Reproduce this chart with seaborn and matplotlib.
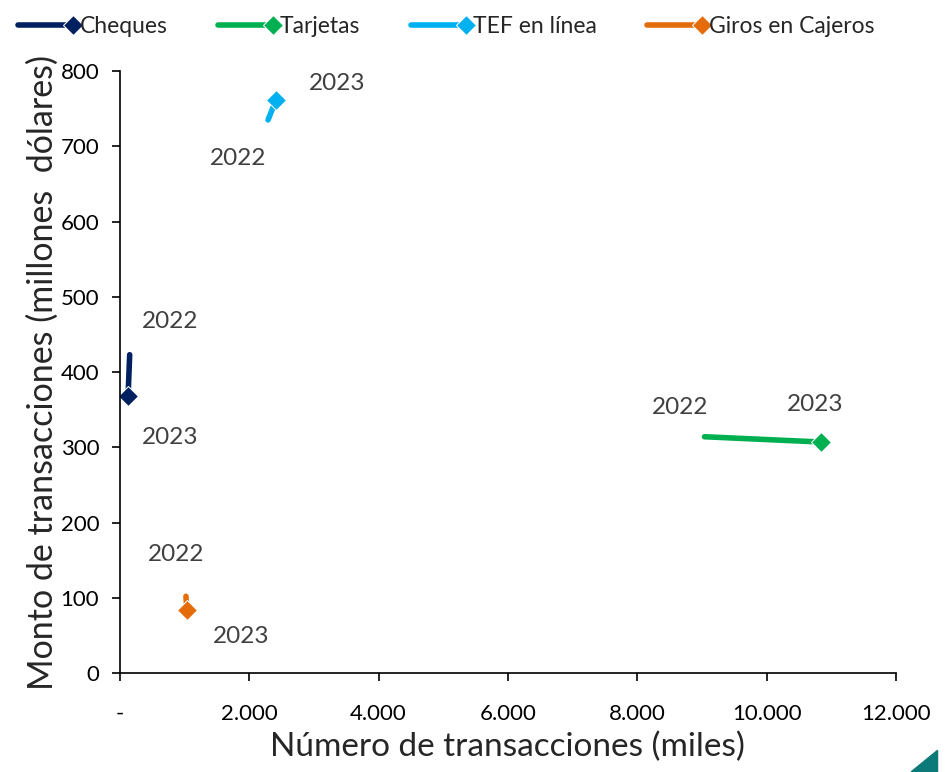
import matplotlib.pyplot as plt
import matplotlib.ticker as mticker
from matplotlib.legend_handler import HandlerLine2D
from matplotlib.lines import Line2D
from matplotlib.patches import Polygon
import seaborn as sns

series = ["Cheques", "Tarjetas", "TEF en línea", "Giros en Cajeros"]
colors = ["#002060", "#00B050", "#00B0F0", "#E46C0A"]
years = ["2022", "2023"]
num_tx = [[150, 125], [9040, 10835], [2290, 2410], [1020, 1035]]
monto_tx = [[423, 368], [314, 307], [735, 761], [102, 84]]

# label offsets (pixels) for 2022 / 2023
offsets = [
    [(40, 33), (42, -41)],
    [(-24, 29), (-5, 38)],
    [(-30, -39), (61, 17)],
    [(-10, 42), (54, -27)],
]

sns.set_style("white")
plt.rcParams["font.family"] = ["Lato", "DejaVu Sans"]

fig = plt.figure(figsize=(9.47, 7.72), dpi=100)
ax = fig.add_axes([0.1267, 0.1282, 0.8193, 0.7798])

for name, col, xs, ys, offs in zip(series, colors, num_tx, monto_tx, offsets):
    sns.lineplot(x=xs, y=ys, ax=ax, color=col, linewidth=4, marker="D",
                 markersize=10, markevery=[1], sort=False, label=name,
                 solid_capstyle="round")
    for xv, yv, yr, off in zip(xs, ys, years, offs):
        ax.annotate(yr, (xv, yv), xytext=off, textcoords="offset pixels",
                    ha="center", va="center", fontsize=17.5, color="#404040")

ax.set_xlim(0, 12000)
ax.set_ylim(0, 800)
ax.xaxis.set_major_locator(mticker.MultipleLocator(2000))
ax.yaxis.set_major_locator(mticker.MultipleLocator(100))
ax.xaxis.set_major_formatter(mticker.FuncFormatter(
    lambda v, p: "-" if v == 0 else f"{v:,.0f}".replace(",", ".")))
ax.tick_params(axis="both", labelsize=16, direction="out", length=6,
               width=1.2, left=True, bottom=True, colors="black", pad=9)
ax.tick_params(axis="x", pad=16)
for s in ["top", "right"]:
    ax.spines[s].set_visible(False)
for s in ["left", "bottom"]:
    ax.spines[s].set_color("black")
    ax.spines[s].set_linewidth(1.2)

ax.set_xlabel("Número de transacciones (miles)", fontsize=24, labelpad=6)
ax.set_ylabel("Monto de transacciones (millones  dólares)", fontsize=24.5,
              labelpad=1)


def last_marker(handle, orig):
    handle.update_from(orig)
    handle.set_markevery([1])


ax.legend(loc="upper center", bbox_to_anchor=(0.416, 1.125), ncol=4,
          frameon=False, fontsize=16.5, numpoints=2, handlelength=3.0,
          handletextpad=0.0, columnspacing=1.9,
          handler_map={Line2D: HandlerLine2D(numpoints=2, update_func=last_marker)})

fig.patches.append(Polygon([[0.962, 0.0], [0.99, 0.028], [0.99, 0.0]],
                           closed=True, transform=fig.transFigure,
                           color="#0B7A78"))

fig.savefig("out.png", dpi=100)
